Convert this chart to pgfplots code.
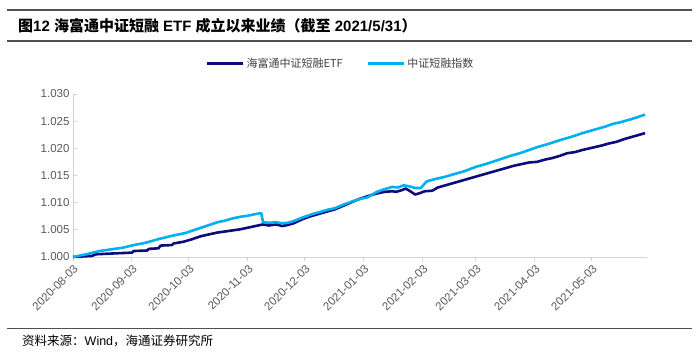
\documentclass[border=0pt]{standalone}
\usepackage{fontspec}
\setmainfont{Liberation Sans}
\newfontfamily\cjk{Noto Sans CJK SC}
\usepackage{pgfplots}
\pgfplotsset{compat=1.18}
\definecolor{etf}{RGB}{12,12,122}
\definecolor{idx}{RGB}{0,176,240}
\definecolor{tickgray}{RGB}{89,89,89}
\definecolor{axgray}{RGB}{210,210,210}
\definecolor{rulegray}{RGB}{80,80,80}
\definecolor{legtext}{RGB}{64,64,64}

\pgfplotstableread{
day val
0 1.0000
5 1.0001
10 1.0002
12 1.0005
18 1.0006
24 1.0007
31 1.0008
32 1.0011
39 1.0012
40 1.0015
45 1.0016
46 1.0021
52 1.0022
53 1.0025
58 1.0028
62 1.0032
67 1.0038
72 1.0042
76 1.0045
80 1.0047
84 1.0049
88 1.0051
92 1.0054
96 1.0057
100 1.0060
103 1.0058
107 1.0060
110 1.0057
113 1.0059
116 1.0062
121 1.0070
125 1.0075
130 1.0080
134 1.0084
138 1.0088
142 1.0094
146 1.0100
150 1.0106
155 1.0112
160 1.0117
164 1.0120
168 1.0121
170 1.0120
173 1.0123
175 1.0126
177 1.0122
180 1.0115
182 1.0117
185 1.0121
189 1.0122
192 1.0128
196 1.0132
200 1.0136
205 1.0141
210 1.0146
215 1.0151
220 1.0156
226 1.0162
232 1.0168
236 1.0171
240 1.0174
244 1.0175
248 1.0179
252 1.0182
256 1.0186
260 1.0191
264 1.0193
268 1.0197
273 1.0201
278 1.0205
282 1.0209
286 1.0212
290 1.0217
294 1.0221
298 1.0225
301 1.0228
}\etfdata

\pgfplotstableread{
day val
0 1.0000
7 1.0005
14 1.0011
20 1.0014
26 1.0017
32 1.0022
38 1.0026
45 1.0033
52 1.0039
59 1.0044
64 1.0050
70 1.0057
76 1.0064
80 1.0067
84 1.0071
88 1.0074
92 1.0076
96 1.0079
99 1.0081
100 1.0064
103 1.0063
107 1.0064
110 1.0062
113 1.0063
116 1.0066
121 1.0073
126 1.0079
130 1.0083
134 1.0087
138 1.0090
142 1.0096
146 1.0101
150 1.0106
155 1.0110
160 1.0120
164 1.0125
168 1.0129
171 1.0128
174 1.0132
177 1.0130
180 1.0127
183 1.0127
186 1.0139
190 1.0143
195 1.0147
200 1.0152
206 1.0158
212 1.0166
218 1.0172
224 1.0179
230 1.0186
236 1.0192
240 1.0197
244 1.0202
250 1.0208
256 1.0215
262 1.0221
268 1.0228
274 1.0234
280 1.0240
284 1.0245
288 1.0248
294 1.0254
301 1.0262
}\idxdata

\begin{document}
\begin{tikzpicture}[x=1pt,y=1pt]
\useasboundingbox (0,0) rectangle (700,357);
\draw[rulegray, line width=1.6pt] (7,347) -- (692,347);
\draw[rulegray, line width=1.6pt] (7,316) -- (692,316);
\node[anchor=west, inner sep=0, font=\fontsize{15}{18}\selectfont\bfseries] at (18,331)
  {{\cjk 图}12 {\cjk 海富通中证短融} ETF {\cjk 成立以来业绩（截至} 2021/5/31{\cjk ）}};
\draw[rulegray, line width=1.6pt] (7,28.5) -- (692,28.5);
\node[anchor=west, inner sep=0, font=\fontsize{12.5}{15}\selectfont] at (22,16)
  {{\cjk 资料来源：}Wind{\cjk ，海通证券研究所}};
\begin{axis}[
  at={(73pt,100pt)}, anchor=south west,
  scale only axis, width=574pt, height=163pt,
  xmin=0, xmax=302, ymin=1, ymax=1.03,
  axis x line=bottom, axis y line=left,
  axis line style={-, axgray, line width=0.9pt},
  xtick={0,31,61,92,122,153,184,212,243,273},
  xticklabels={2020-08-03,2020-09-03,2020-10-03,2020-11-03,2020-12-03,2021-01-03,2021-02-03,2021-03-03,2021-04-03,2021-05-03},
  x tick label style={rotate=45, anchor=north east, font=\fontsize{11.5}{13}\selectfont, text=tickgray, inner sep=2pt},
  ytick={1.000,1.005,1.010,1.015,1.020,1.025,1.030},
  scaled y ticks=false,
  yticklabel style={font=\fontsize{11.5}{13}\selectfont, text=tickgray,
     /pgf/number format/.cd, fixed, fixed zerofill, precision=3, assume math mode=true},
  y tick label style={/pgf/number format/.cd, fixed, fixed zerofill, precision=3, assume math mode=true},
  x tick style={axgray, line width=0.9pt},
  y tick style={axgray, line width=0.9pt},
  xtick align=outside, ytick align=inside,
  major tick length=4pt,
  clip=false,
  legend columns=2,
  legend style={at={(0.226,1.188)}, anchor=west, draw=none, fill=none,
    font=\fontsize{11}{13}\selectfont\cjk, text=legtext,
    /tikz/every even column/.append style={column sep=22pt}},
  legend image code/.code={\draw[#1] (0pt,0pt) -- (36pt,0pt);},
]
\addplot[etf, line width=2.6pt, line join=round] table[x=day,y=val] {\etfdata};
\addlegendentry{海富通中证短融ETF}
\addplot[idx, line width=2.6pt, line join=round] table[x=day,y=val] {\idxdata};
\addlegendentry{中证短融指数}
\end{axis}
\end{tikzpicture}
\end{document}
